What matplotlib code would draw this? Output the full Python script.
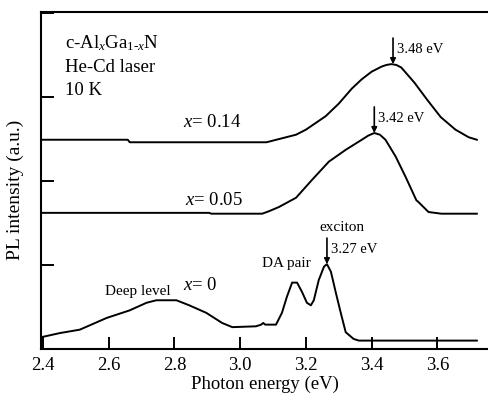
import numpy as np
import matplotlib
matplotlib.use('Agg')
import matplotlib.pyplot as plt

plt.rcParams['font.family'] = 'Liberation Serif'
plt.rcParams['mathtext.fontset'] = 'custom'
plt.rcParams['mathtext.rm'] = 'Liberation Serif'
plt.rcParams['mathtext.it'] = 'Liberation Serif:italic'

#%% datos (energia en eV, intensidad en u.a. con offset)
# x = 0.14
e14 = [2.394, 2.658, 2.664, 3.08, 3.12, 3.17, 3.20, 3.23, 3.26, 3.30, 3.34, 3.37,
       3.40, 3.43, 3.445, 3.46, 3.475, 3.49, 3.53, 3.57, 3.61, 3.655, 3.695, 3.72]
i14 = [2.49, 2.49, 2.46, 2.46, 2.50, 2.55, 2.61, 2.69, 2.77, 2.92, 3.10, 3.21,
       3.30, 3.36, 3.38, 3.39, 3.38, 3.35, 3.17, 2.96, 2.76, 2.61, 2.52, 2.49]

# x = 0.05
e05 = [2.394, 2.906, 2.912, 3.067, 3.088, 3.118, 3.17, 3.218, 3.27, 3.321,
       3.37, 3.39, 3.408, 3.425, 3.442, 3.473, 3.503, 3.536, 3.542, 3.573, 3.612, 3.72]
i05 = [1.62, 1.62, 1.61, 1.61, 1.64, 1.69, 1.80, 2.01, 2.23, 2.37,
       2.49, 2.54, 2.57, 2.55, 2.49, 2.29, 2.05, 1.77, 1.75, 1.63, 1.61, 1.61]

# x = 0
e00 = [2.394, 2.452, 2.512, 2.594, 2.664, 2.715, 2.745, 2.806, 2.845, 2.897,
       2.945, 2.976, 3.048, 3.064, 3.070, 3.076, 3.109, 3.127, 3.142, 3.158,
       3.173, 3.188, 3.203, 3.215, 3.224, 3.239, 3.255, 3.264, 3.276, 3.291,
       3.306, 3.321, 3.345, 3.361, 3.72]
i00 = [0.14, 0.19, 0.23, 0.37, 0.46, 0.55, 0.58, 0.58, 0.52, 0.43,
       0.31, 0.26, 0.27, 0.29, 0.31, 0.29, 0.29, 0.43, 0.62, 0.79,
       0.79, 0.68, 0.55, 0.52, 0.58, 0.82, 0.98, 1.01, 0.92, 0.67,
       0.43, 0.20, 0.12, 0.10, 0.10]

# picos marcados
pk_e = [3.465, 3.408, 3.264]
pk_i = [3.39, 2.57, 1.01]
pk_txt = ['3.48 eV', '3.42 eV', '3.27 eV']

#%% figura
fig = plt.figure(figsize=(4.89, 3.94), dpi=100)
ax = fig.add_axes([41/489, 45/394, 1 - 41/489, 337/394])

for e, i in [(e14, i14), (e05, i05), (e00, i00)]:
    ax.plot(e, i, color='k', lw=1.4)

# flechas
for e, i, t in zip(pk_e, pk_i, pk_txt):
    ax.annotate('', xy=(e, i), xytext=(e, i + 0.31),
                arrowprops=dict(arrowstyle='-|>', color='k', lw=1.2,
                                mutation_scale=8, shrinkA=0, shrinkB=0))
    ax.text(e + 0.012, i + 0.17, t, fontsize=10.5, va='center', ha='left')

ax.text(2.467, 3.64, r'c-Al$_{x}$Ga$_{1\text{-}x}$N', fontsize=13.5, va='center')
ax.text(2.467, 3.345, 'He-Cd laser', fontsize=13.5, va='center')
ax.text(2.467, 3.08, '10 K', fontsize=13.5, va='center')

ax.text(2.826, 2.69, r'$x$= 0.14', fontsize=13.5, va='center')
ax.text(2.832, 1.77, r'$x$= 0.05', fontsize=13.5, va='center')
ax.text(2.826, 0.76, r'$x$= 0', fontsize=13.5, va='center')
ax.text(2.689, 0.68, 'Deep level', fontsize=11, va='center', ha='center')
ax.text(3.142, 1.02, 'DA pair', fontsize=11, va='center', ha='center')
ax.text(3.309, 1.44, 'exciton', fontsize=11, va='center', ha='center')

ax.set_xlim(2.394, 3.757)
ax.set_ylim(0, 4.01)
ax.set_xticks([2.4, 2.6, 2.8, 3.0, 3.2, 3.4, 3.6])
ax.set_xticklabels(['2.4', '2.6', '2.8', '3.0', '3.2', '3.4', '3.6'])
ax.set_yticks([0, 1, 2, 3, 4])
ax.set_yticklabels([])
ax.tick_params(direction='in', length=9, width=1.4, labelsize=13.5, pad=6)
ax.spines['right'].set_visible(False)
for s in ['left', 'bottom', 'top']:
    ax.spines[s].set_linewidth(1.5)

fig.text(265/489, 1 - 384/394, 'Photon energy (eV)', fontsize=13.5,
         ha='center', va='center')
fig.text(15/489, 1 - 190/394, 'PL intensity (a.u.)', fontsize=14,
         ha='center', va='center', rotation=90)

plt.savefig('out.png', dpi=100)
